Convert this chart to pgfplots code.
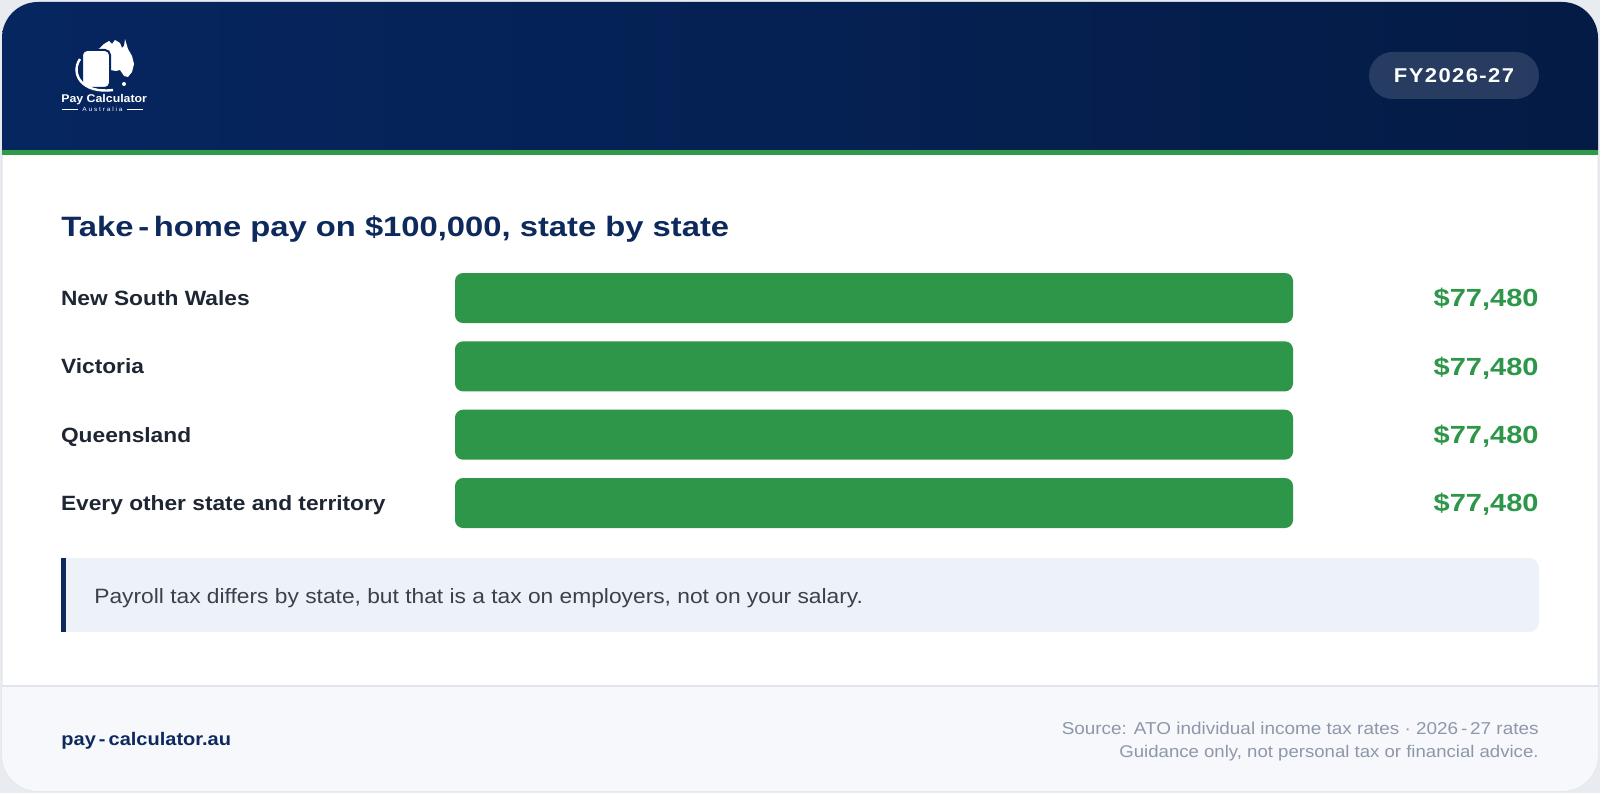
\documentclass[border=0pt]{standalone}
\usepackage{fontspec}
\usepackage{pgfplots}
\pgfplotsset{compat=1.18}
\setmainfont{Liberation Sans}[FakeStretch=1.1]
\newfontfamily\widefont{Liberation Sans}[FakeStretch=1.17]

\definecolor{pageBg}{HTML}{E8EBEF}
\definecolor{navyL}{HTML}{062660}
\definecolor{navyR}{HTML}{041B45}
\definecolor{stripe}{HTML}{2E9A4A}
\definecolor{barGreen}{HTML}{2E9649}
\definecolor{titleNavy}{HTML}{0E2A5C}
\definecolor{labelInk}{HTML}{1F2633}
\definecolor{noteBg}{HTML}{EDF2F8}
\definecolor{noteInk}{HTML}{3A404C}
\definecolor{footBg}{HTML}{F6F8FB}
\definecolor{footLine}{HTML}{E1E5EB}
\definecolor{srcInk}{HTML}{8E97A9}

\begin{document}
\begin{tikzpicture}
\useasboundingbox (0,0) rectangle (800pt,396.5pt);
% card artwork, laid out in pixel units with y running downwards
\begin{scope}[x=0.5pt,y=-0.5pt,yshift=396.5pt]
  \fill[pageBg] (0,0) rectangle (1600,793);
  \path[fill=white, draw=footLine, line width=0.5pt, rounded corners=18pt] (2,2) rectangle (1598,791);
  \begin{scope}
    \clip[rounded corners=18pt] (2,2) rectangle (1598,791);
    \shade[left color=navyL, right color=navyR] (0,0) rectangle (1600,150);
    \fill[stripe] (0,150) rectangle (1600,155);
    \fill[footBg] (0,686) rectangle (1600,793);
    \draw[footLine, line width=0.75pt] (0,686) -- (1600,686);
  \end{scope}

  % logo
  \fill[white] (92,59) -- (94,52) -- (100,48) -- (104,44) -- (109,41) -- (112,44) -- (115,40)
     -- (120,43) -- (122,48) -- (124,46) -- (125,39) -- (128,49) -- (132,56) -- (134,64)
     -- (132,72) -- (128,77) -- (124,76) -- (120,70) -- (116,71) -- (110,70) -- (102,73)
     -- (95,74) -- (93,67) -- cycle;
  \fill[white] (124,84) circle (2);
  \fill[white, draw=navyL, line width=1pt, rounded corners=2.5pt] (82,50) rectangle (110,88);
  \draw[white, line width=1.2pt] (80,59) .. controls (70,74) and (82,94) .. (113,90);
  \node[anchor=base west, inner sep=0, text=white, font=\fontsize{5.6}{7}\selectfont\bfseries] at (61,103) {Pay Calculator};
  \node[inner sep=0, text=white, font=\fontsize{3}{4}\selectfont\addfontfeatures{LetterSpace=30}] at (102.5,109) {Australia};
  \draw[white, line width=0.4pt] (62,109) -- (78,109) (127,109) -- (143,109);

  % year badge
  \fill[white, fill opacity=0.14, rounded corners=11.75pt] (1369,52) rectangle (1539,99);
  \node[inner sep=0, text=white, font=\fontsize{10}{12}\selectfont\bfseries\addfontfeatures{LetterSpace=7}] at (1454,76) {FY2026-27};

  % title
  \node[anchor=base west, inner sep=0, text=titleNavy, font=\widefont\fontsize{14}{16}\selectfont\bfseries] at (61,237) {Take\,-\,home pay on \$100,000, state by state};

  % note box
  \fill[noteBg, rounded corners=5pt] (61,558) rectangle (1539,632);
  \fill[noteBg] (61,558) rectangle (80,632);
  \fill[titleNavy] (61,558) rectangle (66,632);
  \node[anchor=base west, inner sep=0, text=noteInk, font=\fontsize{10.35}{12}\selectfont] at (94,603) {Payroll tax differs by state, but that is a tax on employers, not on your salary.};

  % footer
  \node[anchor=base west, inner sep=0, text=titleNavy, font=\fontsize{9.1}{11}\selectfont\bfseries] at (61,745) {pay\,-\,calculator.au};
  \node[anchor=base east, inner sep=0, text=srcInk, font=\fontsize{8.6}{10}\selectfont] at (1539,734) {Source: ATO individual income tax rates · 2026\,-\,27 rates};
  \node[anchor=base east, inner sep=0, text=srcInk, font=\fontsize{8.45}{10}\selectfont] at (1539,757) {Guidance only, not personal tax or financial advice.};
\end{scope}

\begin{axis}[
  at={(227.5pt,127.9pt)}, anchor=south west,
  scale only axis, width=419pt, height=136.67pt,
  xmin=0, xmax=77480, ymin=-0.5, ymax=3.5, y dir=reverse,
  axis line style={draw=none}, tick style={draw=none},
  xtick=\empty, ytick={0,1,2,3},
  yticklabels={New South Wales, Victoria, Queensland, Every other state and territory},
  yticklabel style={anchor=west, xshift=-192.9pt, inner sep=0pt, text height=7.4pt, text depth=0pt,
    font=\fontsize{10.33}{12}\selectfont\bfseries, text=labelInk},
  clip=false,
  xbar, bar width=25pt,
  point meta=x,
  nodes near coords={\$\pgfmathprintnumber[fixed, precision=0, 1000 sep={,}, assume math mode=true]{\pgfplotspointmeta}},
  every node near coord/.append style={anchor=east, xshift=123pt, inner sep=0pt, text height=8.9pt, text depth=0pt,
    font=\widefont\fontsize{12.4}{14}\selectfont\bfseries, text=barGreen},
]
\addplot[fill=barGreen, draw=none, rounded corners=4pt] coordinates {(77480,0) (77480,1) (77480,2) (77480,3)};
\end{axis}
\end{tikzpicture}
\end{document}
